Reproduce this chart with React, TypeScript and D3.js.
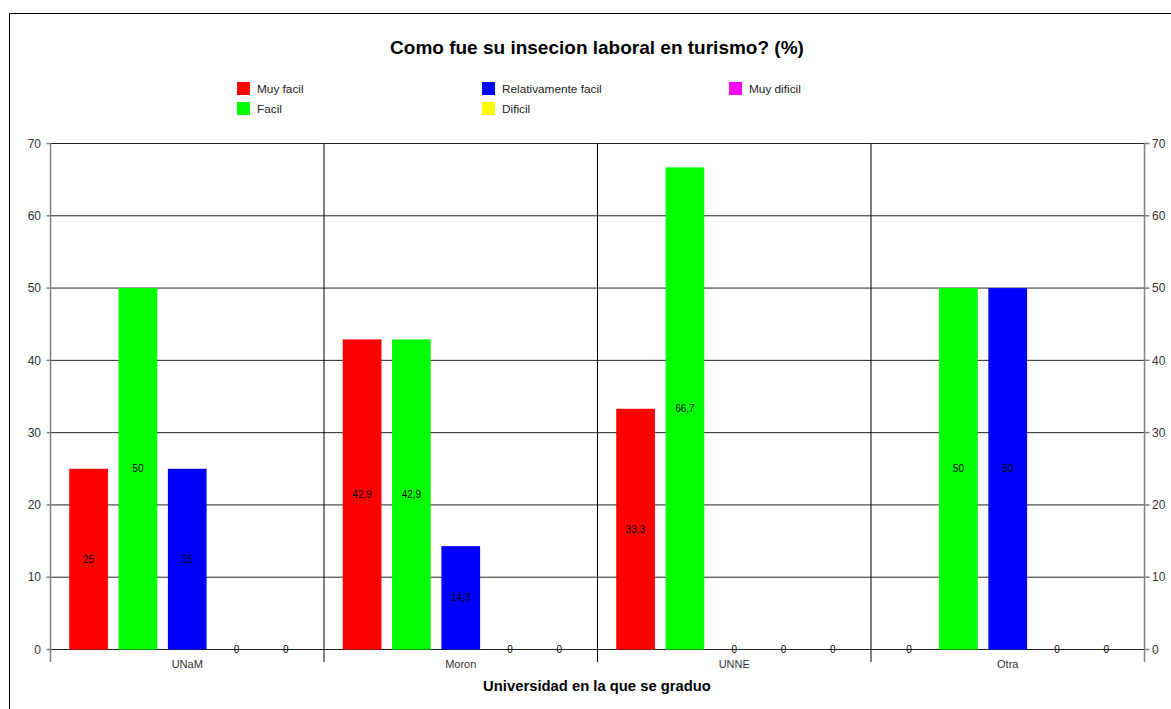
import React from 'react'
import * as d3 from 'd3'

const universities = ['UNaM', 'Moron', 'UNNE', 'Otra']
const seriesNames = ['Muy facil', 'Facil', 'Relativamente facil', 'Dificil', 'Muy dificil']
const seriesColors = ['#ff0000', '#00ff00', '#0000ff', '#ffff00', '#ff00ff']
const muyFacil = [25, 42.9, 33.3, 0]
const facil = [50, 42.9, 66.7, 50]
const relativamenteFacil = [25, 14.3, 0, 50]
const dificil = [0, 0, 0, 0]
const muyDificil = [0, 0, 0, 0]
const yTicks = [0, 10, 20, 30, 40, 50, 60, 70]

const seriesValues = [muyFacil, facil, relativamenteFacil, dificil, muyDificil]

const W = 1171
const H = 709
const m = { left: 50.5, right: 1144.5, top: 143.5, bottom: 649.5 }
const font = 'Arial, "Liberation Sans", sans-serif'

export default function App() {
  const x0 = d3.scaleBand().domain(universities).range([m.left, m.right])
  const x1 = d3.scaleBand<number>()
    .domain(d3.range(seriesNames.length))
    .range([0, x0.bandwidth()])
    .paddingInner(0.215)
    .paddingOuter(0.38)
  const y = d3.scaleLinear().domain([0, 70]).range([m.bottom, m.top])
  const fmt = (v: number) => String(v).replace('.', ',')

  // legend: 2 rows, filled column by column
  const legendX = [237, 482, 729]
  const legendY = [82, 102]

  return (
    <svg width={W} height={H} style={{ position: 'absolute', left: 0, top: 0, background: '#fff' }}
      fontFamily={font}>
      <path d={`M9.5,${H + 5}V13.5H${W + 5}`} fill="none" stroke="#000" />

      <text x={597} y={54} textAnchor="middle" fontSize={19} fontWeight="bold">
        Como fue su insecion laboral en turismo? (%)
      </text>

      <g>
        {seriesNames.map((s, i) => {
          const lx = legendX[Math.floor(i / 2)]
          const ly = legendY[i % 2]
          return <g key={s}>
            <rect x={lx} y={ly} width={13} height={13} fill={seriesColors[i]} />
            <text x={lx + 20} y={ly + 10.5} fontSize={11.8} fill="#222">{s}</text>
          </g>
        })}
      </g>

      {/* gridlines */}
      <g>
        {yTicks.map(t => <line key={t} x1={m.left} x2={m.right} y1={y(t)} y2={y(t)} stroke="#222" />)}
        {universities.map((u, i) => i === 0 ? null :
          <line key={u} x1={x0(u)} x2={x0(u)} y1={m.top} y2={662} stroke="#000" />)}
      </g>

      {/* bars */}
      {universities.map((u, ci) => (
        <g key={u} transform={`translate(${x0(u)},0)`}>
          {seriesValues.map((vals, si) => {
            const v = vals[ci]
            const bx = x1(si)!
            return <g key={si}>
              {v > 0 && <rect x={bx} y={y(v)} width={x1.bandwidth()} height={y(0) - y(v)} fill={seriesColors[si]} />}
              <text x={bx + x1.bandwidth() / 2} y={(y(v) + y(0)) / 2} dy="0.35em" textAnchor="middle"
                fontSize={10} fill="#000">{fmt(v)}</text>
            </g>
          })}
        </g>
      ))}

      {/* axes */}
      <g stroke="#808080" strokeWidth={1.5}>
        <line x1={m.left} x2={m.left} y1={m.top} y2={662} />
        <line x1={m.right} x2={m.right} y1={m.top} y2={662} />
        {yTicks.map(t => <g key={t}>
          <line x1={m.left - 4} x2={m.left} y1={y(t)} y2={y(t)} />
          <line x1={m.right} x2={m.right + 5} y1={y(t)} y2={y(t)} />
        </g>)}
      </g>
      <g fontSize={12} fill="#333">
        {yTicks.map(t => <g key={t}>
          <text x={41} y={y(t)} dy="0.35em" textAnchor="end">{t}</text>
          <text x={1152} y={y(t)} dy="0.35em">{t}</text>
        </g>)}
      </g>
      <g fontSize={11} fill="#333">
        {universities.map(u => <text key={u} x={x0(u)! + x0.bandwidth() / 2} y={668} textAnchor="middle">{u}</text>)}
      </g>
      <text x={597} y={691} textAnchor="middle" fontSize={14.8} fontWeight="bold">Universidad en la que se graduo</text>
    </svg>
  )
}
